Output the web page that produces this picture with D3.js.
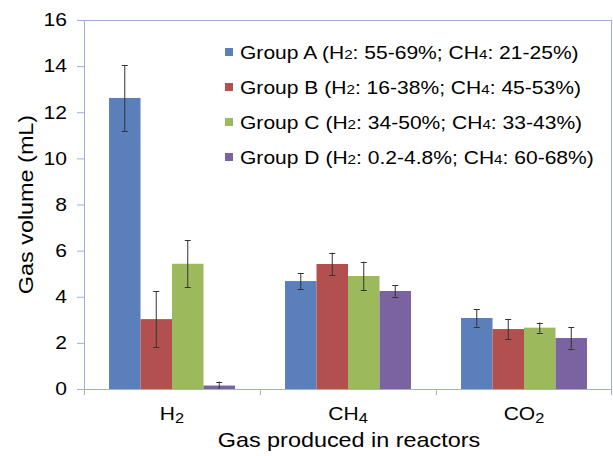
<!DOCTYPE html>
<html>
<head>
<meta charset="utf-8">
<script src="https://cdn.jsdelivr.net/npm/d3@7"></script>
<style>
  body { margin: 0; background: #fff; }
  svg text { font-family: "Liberation Sans", Arial, sans-serif; fill: #000; }
</style>
</head>
<body>
<svg id="chart" width="613" height="456"></svg>
<script>

// categories along the x axis (name + subscript)
var gases = [["H", "2"], ["CH", "4"], ["CO", "2"]];

var groups = ["Group A", "Group B", "Group C", "Group D"];
var legendRanges = [
	["55-69%", "21-25%"],
	["16-38%", "45-53%"],
	["34-50%", "33-43%"],
	["0.2-4.8%", "60-68%"]
];
var colors = ["#5b7fbb", "#b1504e", "#9cba5c", "#7a63a0"];

// mean gas volume (mL) per group, in order H2, CH4, CO2
var groupA = [12.62, 4.68, 3.08];
var groupB = [3.03, 5.42, 2.60];
var groupC = [5.43, 4.90, 2.66];
var groupD = [0.15, 4.25, 2.21];

// error bar half widths
var errA = [1.43, 0.35, 0.38];
var errB = [1.22, 0.49, 0.44];
var errC = [1.02, 0.62, 0.22];
var errD = [0.17, 0.25, 0.46];

var yTicks = [0, 2, 4, 6, 8, 10, 12, 14, 16];

var values = [groupA, groupB, groupC, groupD];
var errors = [errA, errB, errC, errD];

// the source text is a bit stretched sideways
var sx = 1.17;

var svg = d3.select("#chart");
var margin = {left: 84, top: 20, right: 1, bottom: 67};
var w = 613 - margin.left - margin.right;
var h = 456 - margin.top - margin.bottom;
var axisColor = "#9db1d6";

var g = svg.append("g").attr("transform", "translate(" + margin.left + "," + margin.top + ")");

var x0 = d3.scaleBand().domain(d3.range(gases.length)).range([0, w]).paddingInner(0).paddingOuter(0);
var x1 = d3.scaleBand().domain(d3.range(groups.length)).range([25, x0.bandwidth() - 25]).padding(0);
var y = d3.scaleLinear().domain([0, 16]).range([h, 0]);

// plot frame
g.append("rect")
	.attr("x", 0.5).attr("y", 0.5)
	.attr("width", w - 1).attr("height", h)
	.attr("fill", "none")
	.attr("stroke", axisColor);

// y axis
var yAxis = g.append("g").call(d3.axisLeft(y).tickValues(yTicks).tickSize(7).tickPadding(9));
yAxis.select(".domain").attr("stroke", axisColor);
yAxis.selectAll(".tick line").attr("stroke", axisColor);
yAxis.selectAll(".tick text")
	.style("font-size", "18px")
	.attr("fill", "#000")
	.attr("x", -17 / sx)
	.attr("transform", "scale(" + sx + ",1)");

// bars
var bars = g.selectAll("g.gas")
	.data(gases)
	.enter()
	.append("g")
	.attr("class", "gas")
	.attr("transform", function(d, i) { return "translate(" + x0(i) + ",0)"; });

bars.selectAll("rect")
	.data(function(d, i) { return values.map(function(v, k) { return {k: k, v: v[i], e: errors[k][i]}; }); })
	.enter()
	.append("rect")
	.attr("x", function(d) { return x1(d.k); })
	.attr("y", function(d) { return y(d.v); })
	.attr("width", x1.bandwidth())
	.attr("height", function(d) { return h - y(d.v); })
	.attr("fill", function(d) { return colors[d.k]; });

// error bars
var err = bars.selectAll("g.err")
	.data(function(d, i) { return values.map(function(v, k) { return {k: k, v: v[i], e: errors[k][i]}; }); })
	.enter()
	.append("g")
	.attr("class", "err")
	.attr("stroke", "#333")
	.attr("stroke-width", 1);

err.append("line")
	.attr("x1", function(d) { return x1(d.k) + x1.bandwidth() / 2; })
	.attr("x2", function(d) { return x1(d.k) + x1.bandwidth() / 2; })
	.attr("y1", function(d) { return y(d.v + d.e); })
	.attr("y2", function(d) { return y(d.v - d.e); });

[1, -1].forEach(function(s) {
	err.append("line")
		.attr("x1", function(d) { return x1(d.k) + x1.bandwidth() / 2 - 3; })
		.attr("x2", function(d) { return x1(d.k) + x1.bandwidth() / 2 + 3; })
		.attr("y1", function(d) { return Math.round(y(d.v + s * d.e)) + 0.5; })
		.attr("y2", function(d) { return Math.round(y(d.v + s * d.e)) + 0.5; });
});

// x axis line and ticks
g.append("line")
	.attr("x1", 0).attr("x2", w)
	.attr("y1", h + 0.5).attr("y2", h + 0.5)
	.attr("stroke", axisColor);

g.selectAll("line.xtick")
	.data(d3.range(gases.length + 1))
	.enter()
	.append("line")
	.attr("class", "xtick")
	.attr("x1", function(d) { return Math.min(d * x0.bandwidth(), w - 1) + 0.5; })
	.attr("x2", function(d) { return Math.min(d * x0.bandwidth(), w - 1) + 0.5; })
	.attr("y1", h).attr("y2", h + 6)
	.attr("stroke", axisColor);

// category labels
var cat = g.selectAll("g.cat")
	.data(gases)
	.enter()
	.append("g")
	.attr("class", "cat")
	.attr("transform", function(d, i) {
		return "translate(" + (x0(i) + x0.bandwidth() / 2) + "," + (h + 31) + ") scale(" + sx + ",1)";
	})
	.append("text")
	.attr("text-anchor", "middle")
	.style("font-size", "18px");
cat.append("tspan").text(function(d) { return d[0]; });
cat.append("tspan").attr("dy", 3).style("font-size", "14px").text(function(d) { return d[1]; });

// axis titles
svg.append("text")
	.attr("transform", "translate(349,447) scale(" + sx + ",1)")
	.attr("text-anchor", "middle")
	.style("font-size", "20px")
	.text("Gas produced in reactors");

svg.append("text")
	.attr("transform", "translate(33," + (margin.top + h / 2) + ") rotate(-90) scale(" + sx + ",1)")
	.attr("text-anchor", "middle")
	.style("font-size", "20px")
	.text("Gas volume (mL)");

// legend
var legend = svg.append("g").attr("transform", "translate(225,52)");
var item = legend.selectAll("g")
	.data(groups)
	.enter()
	.append("g")
	.attr("transform", function(d, i) { return "translate(0," + i * 35 + ")"; });

item.append("rect")
	.attr("x", 0).attr("y", -4)
	.attr("width", 8).attr("height", 8)
	.attr("fill", function(d, i) { return colors[i]; });

var lt = item.append("text")
	.attr("transform", "translate(15,6.5) scale(" + sx + ",1)")
	.style("font-size", "18px");
lt.append("tspan").text(function(d) { return d + " (H"; });
lt.append("tspan").style("font-size", "13px").text("2");
lt.append("tspan").text(function(d, i) { return ": " + legendRanges[i][0] + "; CH"; });
lt.append("tspan").style("font-size", "13px").text("4");
lt.append("tspan").text(function(d, i) { return ": " + legendRanges[i][1] + ")"; });

</script>
</body>
</html>
